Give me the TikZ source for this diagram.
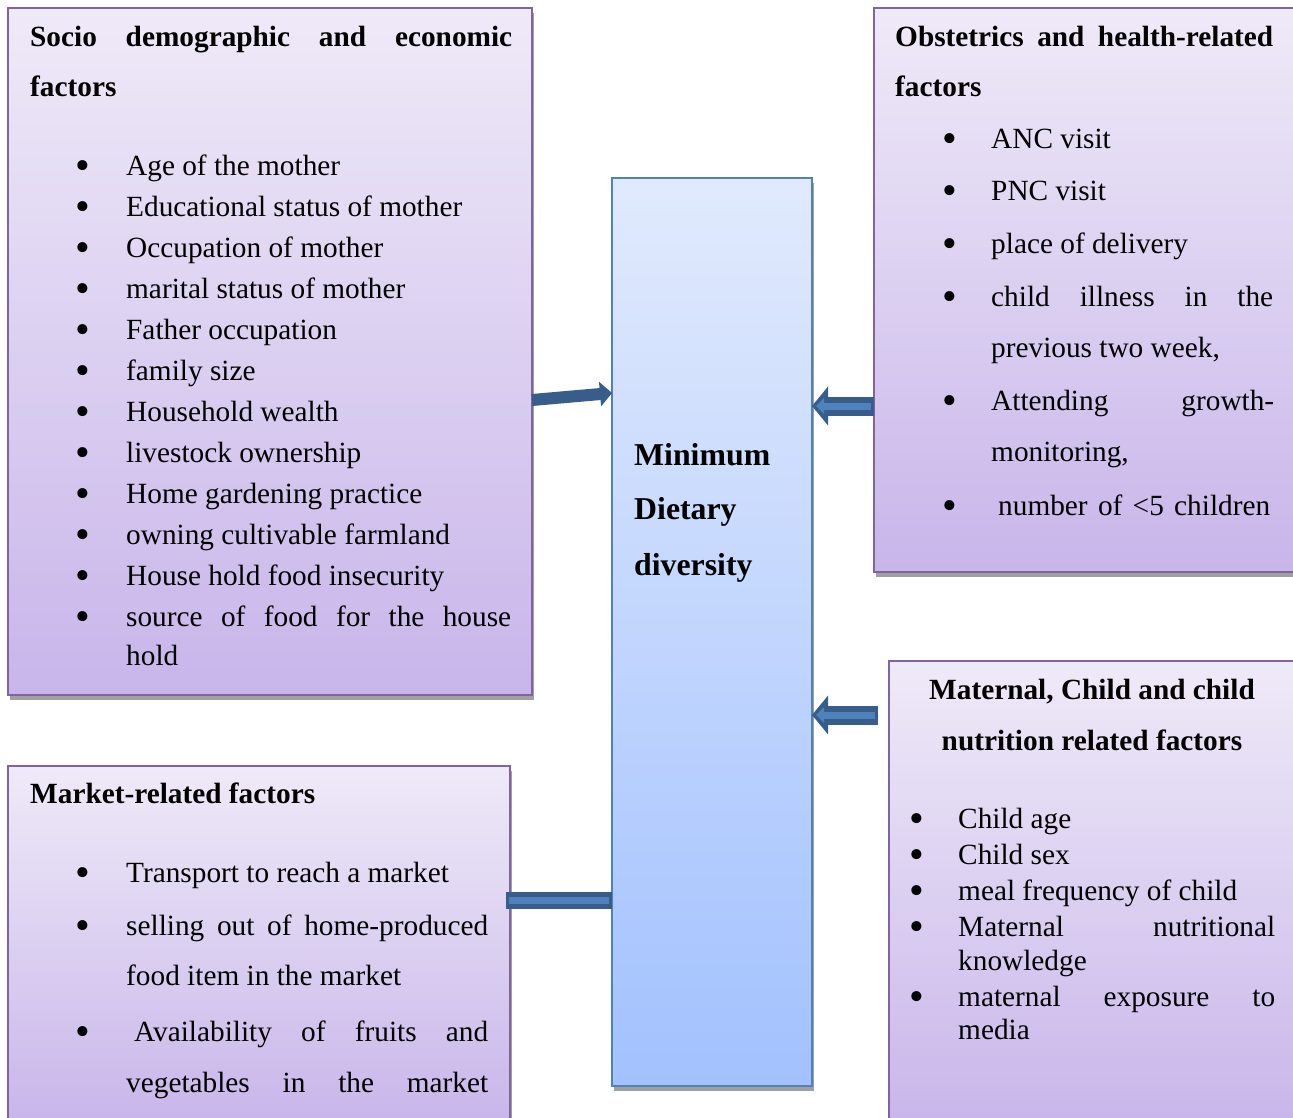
\documentclass[tikz,border=0pt]{standalone}
\usepackage{fontspec}
\setmainfont{Liberation Serif}
\usetikzlibrary{arrows.meta,shadows}
\definecolor{pbord}{HTML}{8064A2}
\definecolor{ptop}{HTML}{EFEAF8}
\definecolor{pbot}{HTML}{C8B5EA}
\definecolor{bbord}{HTML}{4F81BD}
\definecolor{btop}{HTML}{E1EAFD}
\definecolor{bbot}{HTML}{A2C1FE}
\definecolor{adark}{HTML}{385D8A}
\definecolor{amid}{HTML}{4F81BD}
\definecolor{shad}{HTML}{A0A0A0}
\tikzset{
  pbox/.style={draw=pbord, line width=2.5pt, top color=ptop, bottom color=pbot,
    anchor=north west, inner sep=0pt, outer sep=0pt,
    general shadow={fill=shad, shadow xshift=1.5pt, shadow yshift=-5pt}},
  bbox/.style={draw=bbord, line width=2.5pt, top color=btop, bottom color=bbot,
    anchor=north west, inner sep=0pt, outer sep=0pt,
    general shadow={fill=shad, shadow xshift=2pt, shadow yshift=-5pt}},
  txt/.style={anchor=base west, inner sep=0pt, font=\fontsize{29.3}{35}\selectfont},
  hd/.style={txt, font=\fontsize{29.3}{35}\selectfont\bfseries},
  hdbig/.style={txt, font=\fontsize{31.8}{38}\selectfont\bfseries},
  hdc/.style={hd, anchor=base},
  bul/.style={anchor=base, inner sep=0pt, yshift=-4pt, font=\fontsize{42}{45}\selectfont},
  solidarrow/.style={line width=12pt, adark, -{Triangle[length=12pt, width=24pt]}},
  blockout/.style={line width=19pt, adark, -{Triangle[length=16pt, width=38pt]}},
  blockin/.style={line width=7pt, amid, -{Triangle[length=8pt, width=15pt]}, shorten <=3pt, shorten >=4pt},
  barout/.style={line width=17pt, adark},
  barin/.style={line width=7pt, amid, shorten <=3pt, shorten >=3pt},
}
\begin{document}
\begin{tikzpicture}[x=1pt,y=-1pt]
\useasboundingbox (0,0) rectangle (1293,1117);
\clip (0,0) rectangle (1293,1117);
\fill[white] (0,0) rectangle (1293,1117);

% boxes
\node[pbox, minimum width=524pt, minimum height=687pt] (socio) at (8,8) {};
\node[pbox, minimum width=430pt, minimum height=564pt] (obst) at (874,8) {};
\node[pbox, minimum width=420pt, minimum height=470pt] (matern) at (889,661) {};
\node[pbox, minimum width=502pt, minimum height=360pt] (market) at (8,766) {};
\node[bbox, minimum width=200pt, minimum height=908pt] (center) at (612,178) {};

% connectors
\draw[solidarrow] (socio.east |- 0,400) -- (center.west |- 0,393);
\draw[blockout] (obst.west |- 0,406) -- (center.east |- 0,406);
\draw[blockin] (obst.west |- 0,406) -- (center.east |- 0,406);
\coordinate (mtail) at (878,715);
\draw[blockout] (mtail) -- (center.east |- mtail);
\draw[blockin] (mtail) -- (center.east |- mtail);
\coordinate (mkt) at (506,900);
\draw[barout] (mkt) -- (center.west |- mkt);
\draw[barin] (mkt) -- (center.west |- mkt);

% centre text
\node[hdbig] (c1) at (634,465) {Minimum};
\node[hdbig] (c2) at (634,519) {Dietary};
\node[hdbig] (c3) at (634,575) {diversity};

% socio demographic box
\node[hd] (sh1) at (30,46) {\makebox[482pt][s]{Socio demographic and economic}};
\node[hd] (sh2) at (30,96) {factors};
\node[bul] (sb1) at (83,175) {•};  \node[txt] (st1) at (126,175) {Age of the mother};
\node[bul] (sb2) at (83,216) {•};  \node[txt] (st2) at (126,216) {Educational status of mother};
\node[bul] (sb3) at (83,257) {•};  \node[txt] (st3) at (126,257) {Occupation of mother};
\node[bul] (sb4) at (83,298) {•};  \node[txt] (st4) at (126,298) {marital status of mother};
\node[bul] (sb5) at (83,339) {•};  \node[txt] (st5) at (126,339) {Father occupation};
\node[bul] (sb6) at (83,380) {•};  \node[txt] (st6) at (126,380) {family size};
\node[bul] (sb7) at (83,421) {•};  \node[txt] (st7) at (126,421) {Household wealth};
\node[bul] (sb8) at (83,462) {•};  \node[txt] (st8) at (126,462) {livestock ownership};
\node[bul] (sb9) at (83,503) {•};  \node[txt] (st9) at (126,503) {Home gardening practice};
\node[bul] (sb10) at (83,544) {•}; \node[txt] (st10) at (126,544) {owning cultivable farmland};
\node[bul] (sb11) at (83,585) {•}; \node[txt] (st11) at (126,585) {House hold food insecurity};
\node[bul] (sb12) at (83,626) {•}; \node[txt] (st12) at (126,626) {\makebox[385pt][s]{source of food for the house}};
\node[txt] (st13) at (126,665) {hold};

% obstetrics box
\node[hd] (oh1) at (895,46) {\makebox[378pt][s]{Obstetrics and health-related}};
\node[hd] (oh2) at (895,96) {factors};
\node[bul] (ob1) at (950,148) {•}; \node[txt] (ot1) at (991,148) {ANC visit};
\node[bul] (ob2) at (950,200) {•}; \node[txt] (ot2) at (991,200) {PNC visit};
\node[bul] (ob3) at (950,253) {•}; \node[txt] (ot3) at (991,253) {place of delivery};
\node[bul] (ob4) at (950,306) {•}; \node[txt] (ot4) at (991,306) {\makebox[282pt][s]{child illness in the}};
\node[txt] (ot5) at (991,357) {previous two week,};
\node[bul] (ob6) at (950,410) {•}; \node[txt] (ot6) at (991,410) {\makebox[283pt][s]{Attending growth-}};
\node[txt] (ot7) at (991,461) {monitoring,};
\node[bul] (ob8) at (950,515) {•}; \node[txt] (ot8) at (998,515) {\makebox[272pt][s]{number of <5 children}};

% maternal box
\node[hdc] (mh1) at (1092,699) {Maternal, Child and child};
\node[hdc] (mh2) at (1092,750) {nutrition related factors};
\node[bul] (mb1) at (917,828) {•}; \node[txt] (mt1) at (958,828) {Child age};
\node[bul] (mb2) at (917,864) {•}; \node[txt] (mt2) at (958,864) {Child sex};
\node[bul] (mb3) at (917,900) {•}; \node[txt] (mt3) at (958,900) {meal frequency of child};
\node[bul] (mb4) at (917,936) {•}; \node[txt] (mt4) at (958,936) {\makebox[317pt][s]{Maternal nutritional}};
\node[txt] (mt5) at (958,970) {knowledge};
\node[bul] (mb6) at (917,1006) {•}; \node[txt] (mt6) at (958,1006) {\makebox[317pt][s]{maternal exposure to}};
\node[txt] (mt7) at (958,1039) {media};

% market box
\node[hd] (kh1) at (30,803) {Market-related factors};
\node[bul] (kb1) at (83,882) {•}; \node[txt] (kt1) at (126,882) {Transport to reach a market};
\node[bul] (kb2) at (83,935) {•}; \node[txt] (kt2) at (126,935) {\makebox[362pt][s]{selling out of home-produced}};
\node[txt] (kt3) at (126,985) {food item in the market};
\node[bul] (kb4) at (83,1041) {•}; \node[txt] (kt4) at (134,1041) {\makebox[354pt][s]{Availability of fruits and}};
\node[txt] (kt5) at (126,1092) {\makebox[362pt][s]{vegetables in the market}};
\end{tikzpicture}
\end{document}
